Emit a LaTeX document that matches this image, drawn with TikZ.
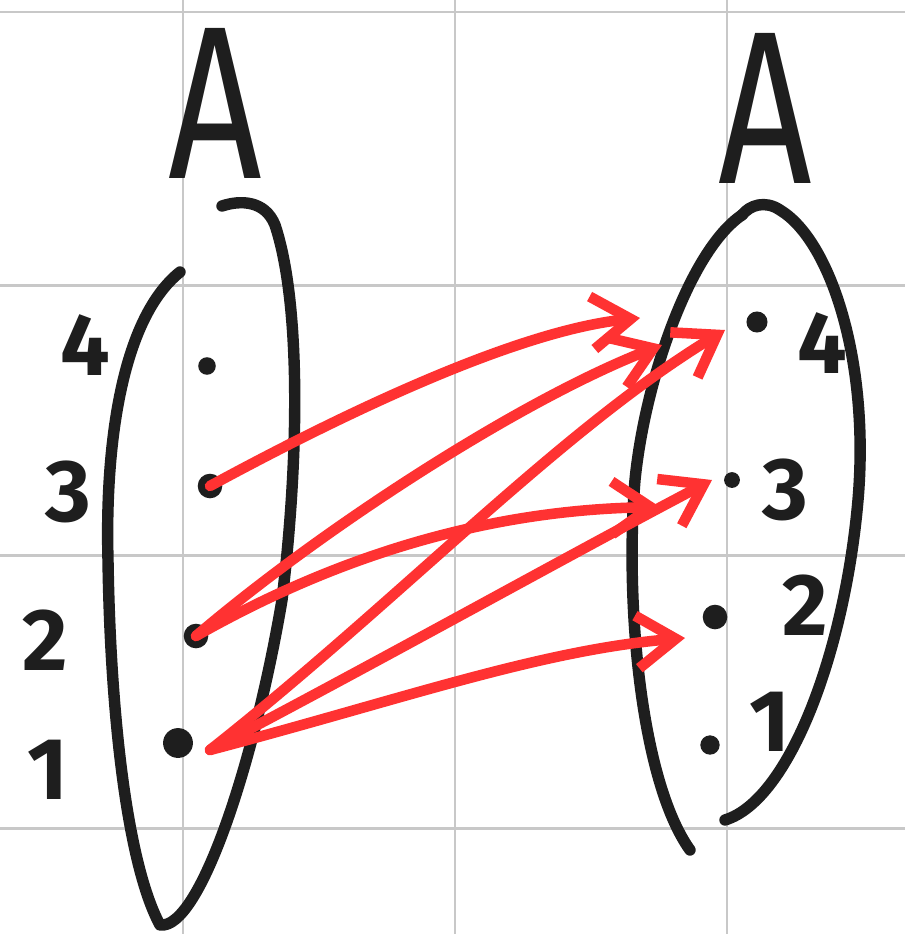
\documentclass[tikz,border=0pt]{standalone}
\usepackage{fontspec}
\setmainfont{Fira Sans}
\usetikzlibrary{arrows.meta}
\definecolor{gridc}{RGB}{200,200,200}
\definecolor{ink}{RGB}{30,30,30}
\definecolor{pen}{RGB}{255,50,50}
\begin{document}
\begin{tikzpicture}[x=0.02cm,y=-0.02cm,
  gridline/.style={gridc,line width=1.7pt},
  setline/.style={ink,line width=6.5pt,line cap=round,line join=round},
  dotnode/.style={circle,fill=ink,inner sep=0pt,minimum size=#1},
  bigletter/.style={ink,font=\fontsize{124}{124}\selectfont,xscale=0.75,inner sep=0pt},
  numlabel/.style={ink,font=\fontsize{50}{50}\selectfont\bfseries,inner sep=0pt},
  maparrow/.style={pen,line width=6pt,line cap=round,line join=round,
    -{Straight Barb[length=22pt,width=30pt,line width=6pt]}}]
\useasboundingbox[fill=white] (0,0) rectangle (905,934);
% grid
\foreach \gx in {183,455,727} \draw[gridline] (\gx,0) -- (\gx,934);
\foreach \gy in {12,285,555,828} \draw[gridline] (0,\gy) -- (905,\gy);
% titles
\node[bigletter] (AL) at (215,103) {A};
\node[bigletter] (AR) at (765,108) {A};
% left set outline
\draw[setline] (180,272) .. controls (120,320) and (105,450) .. (108,560)
  .. controls (110,700) and (125,860) .. (160,925)
  .. controls (200,930) and (255,760) .. (282,600)
  .. controls (300,450) and (300,300) .. (275,225)
  .. controls (265,200) and (240,200) .. (222,206);
% right set outline
\draw[setline] (742,215) .. controls (690,250) and (645,380) .. (635,480)
  .. controls (625,600) and (640,780) .. (690,850);
\draw[setline] (725,820) .. controls (790,800) and (845,650) .. (858,500)
  .. controls (870,360) and (830,240) .. (780,210)
  .. controls (765,200) and (750,205) .. (742,215);
% left points
\node[dotnode=10pt] (l4) at (207,366) {};
\node[dotnode=14pt] (l3) at (210,486) {};
\node[dotnode=14pt] (l2) at (196,636) {};
\node[dotnode=17pt] (l1) at (178,743) {};
% right points
\node[dotnode=12pt] (r4) at (757,322) {};
\node[dotnode=9pt] (r3) at (732,480) {};
\node[dotnode=14pt] (r2) at (715,617) {};
\node[dotnode=11pt] (r1) at (710,745) {};
% labels
\node[numlabel] (t4) at (85,345) {4};
\node[numlabel] (t3) at (68,492) {3};
\node[numlabel] (t2) at (45,640) {2};
\node[numlabel] (t1) at (48,770) {1};
\node[numlabel] (s4) at (822,343) {4};
\node[numlabel] (s3) at (785,490) {3};
\node[numlabel] (s2) at (805,605) {2};
\node[numlabel] (s1) at (770,722) {1};
% arrow end points
\coordinate (e34) at (640,318);
\coordinate (e24) at (662,345);
\coordinate (e14) at (725,330);
\coordinate (e23) at (660,507);
\coordinate (e13) at (712,480);
\coordinate (e12) at (685,638);
% arrows
\draw[maparrow] (l3.center) .. controls (350,410) and (520,330) .. (e34);
\draw[maparrow] (l2.center) .. controls (320,530) and (520,400) .. (e24);
\draw[maparrow] (l2.center) .. controls (330,560) and (480,510) .. (e23);
\draw[maparrow] (210,750) .. controls (400,600) and (560,430) .. (e14);
\draw[maparrow] (210,750) .. controls (400,650) and (560,560) .. (e13);
\draw[maparrow] (210,750) .. controls (400,700) and (540,650) .. (e12);
\end{tikzpicture}
\end{document}
